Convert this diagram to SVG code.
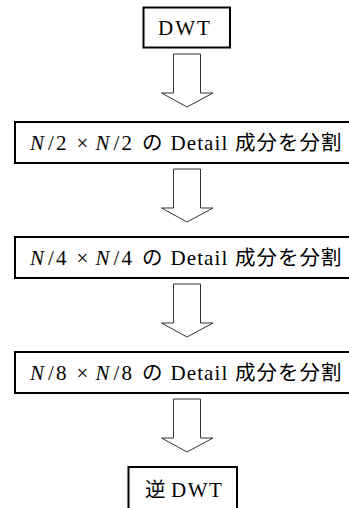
<svg xmlns="http://www.w3.org/2000/svg" width="349" height="508" viewBox="0 0 349 508">
<style>
.box{fill:#fff;stroke:#000;stroke-width:2}
.arr{fill:#fff;stroke:#333;stroke-width:1;stroke-linejoin:miter}
.lbl{font-family:"Liberation Serif","Noto Sans CJK JP",serif;font-size:21px;fill:#000}
.it{font-style:italic}
.jp{font-family:"Noto Sans CJK JP",sans-serif;font-size:20.5px}
.dwt{letter-spacing:2px}
.det{letter-spacing:1.1px}
.cjk{letter-spacing:1px}
</style>
<rect width="349" height="508" fill="#fff"/>
<g id="connectors">
<polygon class="arr" points="173.5,54 200.5,54 200.5,93 213,93 187,107 161.5,93 173.5,93"/>
<polygon class="arr" points="173.5,169 200.5,169 200.5,208 213,208 187,222 161.5,208 173.5,208"/>
<polygon class="arr" points="173.5,284 200.5,284 200.5,323 213,323 187,337 161.5,323 173.5,323"/>
<polygon class="arr" points="173.5,399 200.5,399 200.5,438 213,438 187,452 161.5,438 173.5,438"/>
</g>
<g id="dwt">
<rect class="box" x="143.5" y="7.5" width="86.5" height="40"/>
<text class="lbl dwt" x="158" y="34.5">DWT</text>
</g>
<g id="split2">
<rect class="box" x="15" y="122" width="343" height="41"/>
<text class="lbl" y="150"><tspan class="it" x="30">N</tspan><tspan x="48 56">/2 </tspan><tspan x="76.5">× </tspan><tspan class="it" x="95.5">N</tspan><tspan x="113.5 121.5">/2 </tspan><tspan class="jp" x="142">の </tspan><tspan class="det" x="170.5">Detail </tspan><tspan class="jp cjk" x="235">成分を分割</tspan></text>
</g>
<g id="split4">
<rect class="box" x="15" y="237" width="343" height="41"/>
<text class="lbl" y="265"><tspan class="it" x="30">N</tspan><tspan x="48 56">/4 </tspan><tspan x="76.5">× </tspan><tspan class="it" x="95.5">N</tspan><tspan x="113.5 121.5">/4 </tspan><tspan class="jp" x="142">の </tspan><tspan class="det" x="170.5">Detail </tspan><tspan class="jp cjk" x="235">成分を分割</tspan></text>
</g>
<g id="split8">
<rect class="box" x="15" y="352" width="343" height="41"/>
<text class="lbl" y="380"><tspan class="it" x="30">N</tspan><tspan x="48 56">/8 </tspan><tspan x="76.5">× </tspan><tspan class="it" x="95.5">N</tspan><tspan x="113.5 121.5">/8 </tspan><tspan class="jp" x="142">の </tspan><tspan class="det" x="170.5">Detail </tspan><tspan class="jp cjk" x="235">成分を分割</tspan></text>
</g>
<g id="idwt">
<rect class="box" x="128.5" y="467" width="108.5" height="60"/>
<text class="lbl" y="496.5"><tspan class="jp" x="145">逆 </tspan><tspan x="171" style="letter-spacing:1.5px">DWT</tspan></text>
</g>
</svg>
